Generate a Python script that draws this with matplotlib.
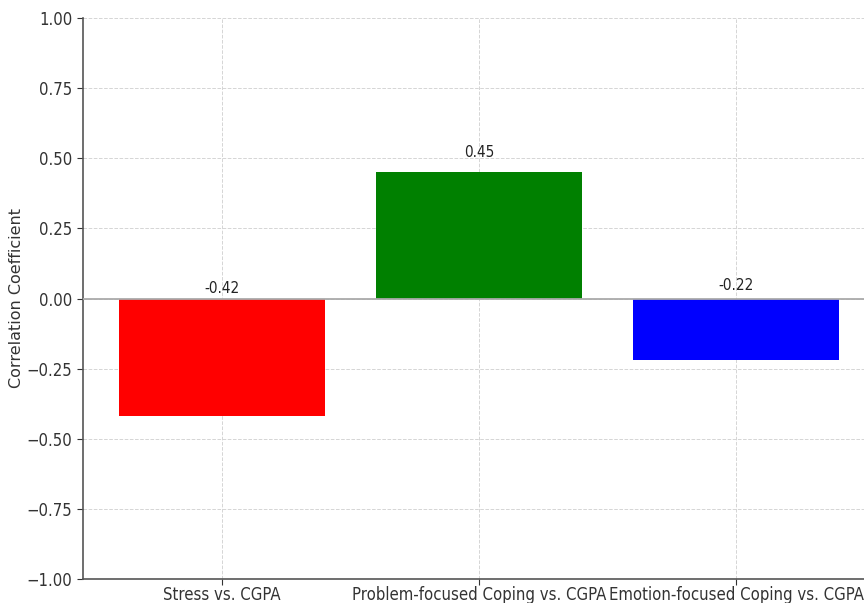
import matplotlib
matplotlib.use("Agg")
import matplotlib.pyplot as plt

categories = ["Stress vs. CGPA", "Problem-focused Coping vs. CGPA", "Emotion-focused Coping vs. CGPA"]
values = [-0.42, 0.45, -0.22]
colors = ["red", "green", "blue"]
label_offsets = [0.01, 0.045, 0.02]
yticks = [-1.0, -0.75, -0.5, -0.25, 0.0, 0.25, 0.5, 0.75, 1.0]

plt.rcParams['font.family'] = ['DejaVu Sans']
plt.rcParams['font.stretch'] = 'condensed'
txt = '#333333'

fig = plt.figure(figsize=(8.64, 6.03), dpi=100)
ax = fig.add_axes([83/864, 1-579/603, (875-83)/864, (579-18)/603])

x = list(range(len(categories)))
bars = ax.bar(x, values, color=colors, width=0.8, zorder=2)
ax.axhline(0, color='#aaaaaa', linewidth=1.3, zorder=3)
for xi, v, off in zip(x, values, label_offsets):
    ax.text(xi, max(v, 0) + off, f"{v:.2f}", ha='center', va='bottom', fontsize=11, color='#222222', zorder=4)

ax.set_ylim(-1, 1)
ax.set_yticks(yticks)
ax.set_yticklabels([f"{t:.2f}".replace('-', '\u2212') for t in yticks])
ax.set_xticks(x)
ax.set_xticklabels(categories)
ax.set_ylabel("Correlation Coefficient", fontsize=11.5, color=txt, fontstretch='normal')
ax.yaxis.set_label_coords(-0.074, 0.5)
ax.tick_params(axis='both', labelsize=12, colors=txt, length=4)
ax.tick_params(axis='x', pad=1)
ax.grid(True, linestyle='--', color='#d5d5d5', linewidth=0.7, zorder=0)
ax.set_axisbelow(True)
for s in ['top', 'right']:
    ax.spines[s].set_visible(False)
for s in ['left', 'bottom']:
    ax.spines[s].set_color('#555555')
    ax.spines[s].set_linewidth(1.2)

fig.savefig("out.png", dpi=100)
